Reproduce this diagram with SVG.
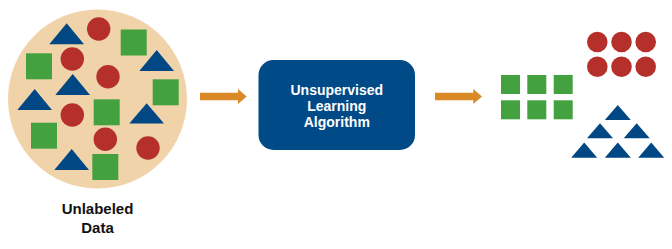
<svg xmlns="http://www.w3.org/2000/svg" width="672" height="249" viewBox="0 0 672 249">
<style>
.sq{fill:#43A13F}
.ci{fill:#B52F2B}
.tr{fill:#004784}
.lbl{font-family:"Liberation Sans",Arial,sans-serif;font-weight:bold;text-anchor:middle}
.arr{fill:#D98A27}
</style>
<rect width="672" height="249" fill="#FFFFFF"/>
<g id="unlabeled-data">
<circle cx="97.5" cy="99" r="89.5" fill="#F1D3AA"/>
<polygon class="tr" points="66.7,23.3 84,44.3 49.3,44.3"/>
<circle class="ci" cx="98.7" cy="29" r="11.7"/>
<rect class="sq" x="120.7" y="29.5" width="26" height="26"/>
<rect class="sq" x="26" y="53.3" width="26" height="26"/>
<circle class="ci" cx="72.3" cy="59" r="11.7"/>
<polygon class="tr" points="156.7,50 174,71 139.3,71"/>
<circle class="ci" cx="108" cy="76.7" r="11.7"/>
<polygon class="tr" points="72.7,74 90,95 55.3,95"/>
<rect class="sq" x="152.7" y="79.3" width="26" height="26"/>
<polygon class="tr" points="34.7,89 52,110 17.3,110"/>
<circle class="ci" cx="72.3" cy="115" r="11.7"/>
<rect class="sq" x="93.7" y="99.3" width="26" height="26"/>
<polygon class="tr" points="146.7,103.3 164,123.5 129.3,123.5"/>
<rect class="sq" x="31" y="122.7" width="26" height="26"/>
<circle class="ci" cx="105.3" cy="139.3" r="11.7"/>
<circle class="ci" cx="148" cy="148" r="11.7"/>
<polygon class="tr" points="71.7,149 89,170 54.3,170"/>
<rect class="sq" x="92.3" y="154" width="26" height="26"/>
<text class="lbl" x="97.5" y="214" font-size="15" fill="#111111">Unlabeled</text>
<text class="lbl" x="97.5" y="232.7" font-size="15" fill="#111111">Data</text>
</g>
<g id="algorithm">
<rect x="258.5" y="60" width="156.5" height="90" rx="15" ry="15" fill="#004A87"/>
<text class="lbl" x="336.8" y="95" font-size="14" fill="#FFFFFF">Unsupervised</text>
<text class="lbl" x="336.8" y="111" font-size="14" fill="#FFFFFF">Learning</text>
<text class="lbl" x="336.8" y="127" font-size="14" fill="#FFFFFF">Algorithm</text>
</g>
<g id="clusters">
<rect class="sq" x="501" y="75" width="19" height="19"/>
<rect class="sq" x="527.3" y="75" width="19" height="19"/>
<rect class="sq" x="553.7" y="75" width="19" height="19"/>
<rect class="sq" x="501" y="100.3" width="19" height="19"/>
<rect class="sq" x="527.3" y="100.3" width="19" height="19"/>
<rect class="sq" x="553.7" y="100.3" width="19" height="19"/>
<circle class="ci" cx="597.3" cy="42" r="10.3"/>
<circle class="ci" cx="621.5" cy="42" r="10.3"/>
<circle class="ci" cx="645.7" cy="42" r="10.3"/>
<circle class="ci" cx="597.3" cy="66.7" r="10.3"/>
<circle class="ci" cx="621.5" cy="66.7" r="10.3"/>
<circle class="ci" cx="645.7" cy="66.7" r="10.3"/>
<polygon class="tr" points="617.8,105 630.8,120 604.8,120"/>
<polygon class="tr" points="600,123.3 613,138.3 587,138.3"/>
<polygon class="tr" points="636.7,123.3 649.7,138.3 623.7,138.3"/>
<polygon class="tr" points="584.2,142.5 597.2,157.7 571.2,157.7"/>
<polygon class="tr" points="617.8,142.5 630.8,157.7 604.8,157.7"/>
<polygon class="tr" points="651.2,142.5 664.2,157.7 638.2,157.7"/>
</g>
<g id="connectors">
<polygon class="arr" points="200,92.7 238,92.7 238,89 246.7,96.5 238,104 238,100.3 200,100.3"/>
<polygon class="arr" points="435,92.7 473.3,92.7 473.3,89 482,96.5 473.3,104 473.3,100.3 435,100.3"/>
</g>
</svg>
